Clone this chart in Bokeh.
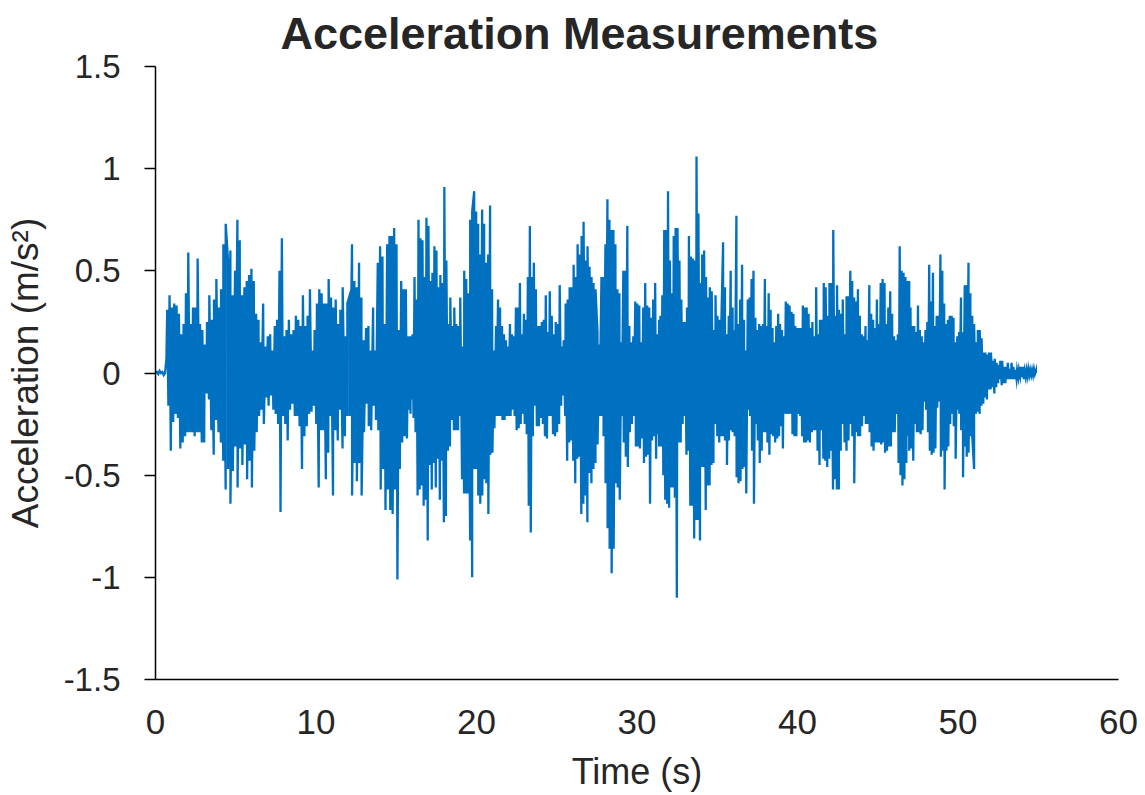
import numpy as np
from bokeh.plotting import figure
from bokeh.models import FixedTicker, Range1d
from bokeh.embed import file_html
from bokeh.resources import INLINE

# ---------------- data ----------------
title_text = "Acceleration Measurements"
x_title = "Time (s)"
y_title = "Acceleration (m/s²)"

x_ticks = [0, 10, 20, 30, 40, 50, 60]
x_tick_labels = ["0", "10", "20", "30", "40", "50", "60"]
y_ticks = [-1.5, -1.0, -0.5, 0.0, 0.5, 1.0, 1.5]
y_tick_labels = ["-1.5", "-1", "-0.5", "0", "0.5", "1", "1.5"]

# quiet lead-in before the shaking starts (0 - 0.7 s)
lead_in = [0.0, 0.005, -0.005, 0.01, 0.0, 0.005, -0.01, 0.0, 0.07]

# segment time spans (s)
seg_spans = [(0.73, 15.89), (15.89, 31.38), (31.46, 46.96), (47.04, 54.85)]

segA_up = [0.31,0.38,0.32,0.34,0.33,0.29,0.19,0.24,0.39,0.59,0.24,0.32,0.32,0.56,0.24,0.21,0.14,0.25,0.38,0.26,
           0.36,0.46,0.32,0.41,0.63,0.73,0.55,0.60,0.38,0.50,0.75,0.65,0.38,0.42,0.45,0.48,0.51,0.45,0.29,0.26,
           0.15,0.34,0.13,0.18,0.19,0.11,0.23,0.26,0.50,0.66,0.18,0.21,0.26,0.19,0.21,0.28,0.26,0.23,0.38,0.23,
           0.28,0.41,0.11,0.21,0.34,0.41,0.39,0.34,0.34,0.46,0.37,0.32,0.36,0.24,0.31,0.42,0.18,0.34,0.38,0.63,
           0.45,0.42,0.54,0.37,0.16,0.22,0.23,0.11,0.32,0.11,0.54,0.62,0.57,0.24,0.63,0.67,0.67,0.71,0.63,0.21,
           0.45,0.41,0.41,0.18,0.18]
segA_dn = [-0.16,-0.38,-0.24,-0.20,-0.22,-0.37,-0.34,-0.31,-0.29,-0.29,-0.29,-0.31,-0.29,-0.29,-0.34,-0.34,-0.10,
           -0.13,-0.28,-0.40,-0.23,-0.29,-0.34,-0.43,-0.57,-0.47,-0.64,-0.48,-0.36,-0.56,-0.37,-0.45,-0.35,-0.52,
           -0.43,-0.56,-0.38,-0.29,-0.21,-0.18,-0.25,-0.12,-0.16,-0.11,-0.18,-0.20,-0.25,-0.68,-0.21,-0.25,-0.33,
           -0.18,-0.15,-0.21,-0.21,-0.26,-0.47,-0.31,-0.26,-0.20,-0.19,-0.16,-0.25,-0.56,-0.28,-0.28,-0.52,-0.39,
           -0.21,-0.60,-0.28,-0.33,-0.18,-0.37,-0.31,-0.21,-0.21,-0.60,-0.44,-0.53,-0.44,-0.60,-0.29,-0.15,-0.26,
           -0.28,-0.16,-0.23,-0.28,-0.57,-0.47,-0.67,-0.57,-0.67,-0.69,-0.57,-1.01,-0.47,-0.34,-0.31,-0.32,-0.18,
           -0.20]

segB_up = [0.18,0.19,0.47,0.36,0.75,0.66,0.65,0.47,0.76,0.72,0.45,0.49,0.62,0.60,0.42,0.48,0.44,0.91,0.55,0.24,
           0.37,0.23,0.32,0.24,0.23,0.37,0.13,0.50,0.46,0.39,0.75,0.79,0.89,0.79,0.73,0.58,0.80,0.73,0.54,0.58,
           0.82,0.41,0.11,0.23,0.36,0.32,0.23,0.19,0.16,0.13,0.24,0.19,0.18,0.32,0.32,0.44,0.19,0.29,0.26,0.47,
           0.72,0.47,0.54,0.41,0.23,0.23,0.25,0.26,0.38,0.20,0.40,0.28,0.19,0.25,0.24,0.43,0.13,0.16,0.34,0.36,
           0.42,0.42,0.53,0.47,0.63,0.58,0.67,0.74,0.55,0.62,0.52,0.47,0.44,0.41,0.20,0.14,0.47,0.47,0.63,0.85,
           0.75,0.70,0.70,0.63,0.41,0.39,0.15,0.50,0.50,0.72,0.23,0.15,0.18,0.35,0.34,0.33,0.15,0.32,0.44,0.33,
           0.32,0.27,0.36,0.44,0.19,0.26]
segB_dn = [-0.13,-0.22,-0.29,-0.60,-0.57,-0.55,-0.65,-0.62,-0.82,-0.45,-0.57,-0.44,-0.56,-0.42,-0.62,-0.43,-0.73,
           -0.70,-0.38,-0.36,-0.23,-0.28,-0.28,-0.28,-0.21,-0.52,-0.59,-0.59,-0.59,-0.82,-1.00,-0.47,-0.47,-0.60,
           -0.64,-0.60,-0.52,-0.54,-0.69,-0.40,-0.39,-0.27,-0.21,-0.21,-0.21,-0.23,-0.23,-0.21,-0.21,-0.21,-0.18,
           -0.21,-0.28,-0.27,-0.25,-0.20,-0.25,-0.30,-0.65,-0.78,-0.31,-0.16,-0.26,-0.26,-0.22,-0.25,-0.31,-0.32,
           -0.21,-0.21,-0.30,-0.31,-0.29,-0.25,-0.16,-0.11,-0.21,-0.43,-0.34,-0.33,-0.43,-0.54,-0.42,-0.41,-0.69,
           -0.64,-0.60,-0.73,-0.49,-0.54,-0.47,-0.44,-0.35,-0.21,-0.21,-0.31,-0.54,-0.76,-0.86,-0.98,-0.86,-0.54,
           -0.56,-0.62,-0.21,-0.34,-0.41,-0.46,-0.29,-0.25,-0.21,-0.36,-0.36,-0.37,-0.32,-0.44,-0.41,-0.40,-0.64,
           -0.33,-0.31,-0.42,-0.30,-0.36]

segC_up = [0.28,0.38,0.70,0.70,0.89,0.55,0.39,0.67,0.71,0.71,0.55,0.36,0.25,0.25,0.32,0.67,0.57,0.56,0.55,1.06,
           0.78,0.44,0.58,0.60,0.47,0.37,0.42,0.40,0.21,0.38,0.28,0.26,0.21,0.64,0.42,0.19,0.28,0.50,0.32,0.21,
           0.77,0.24,0.36,0.53,0.26,0.11,0.36,0.37,0.46,0.50,0.27,0.21,0.24,0.23,0.24,0.46,0.23,0.39,0.31,0.22,
           0.15,0.23,0.29,0.24,0.21,0.18,0.35,0.34,0.33,0.30,0.29,0.23,0.22,0.22,0.22,0.33,0.32,0.32,0.29,0.22,
           0.25,0.18,0.42,0.19,0.26,0.26,0.44,0.42,0.28,0.44,0.44,0.70,0.28,0.43,0.31,0.29,0.36,0.19,0.37,0.37,
           0.50,0.45,0.37,0.35,0.41,0.28,0.19,0.18,0.23,0.16,0.43,0.29,0.26,0.22,0.36,0.24,0.44,0.46,0.44,0.24,
           0.32,0.40,0.29,0.18,0.16,0.19,0.62,0.50,0.49,0.47,0.45,0.45]
segC_dn = [-0.36,-0.50,-0.62,-0.64,-0.66,-0.56,-0.56,-0.61,-1.10,-0.34,-0.34,-0.25,-0.21,-0.40,-0.38,-0.65,-0.65,
           -0.81,-0.72,-0.72,-0.82,-0.46,-0.46,-0.67,-0.55,-0.55,-0.45,-0.44,-0.25,-0.31,-0.34,-0.31,-0.31,-0.33,
           -0.45,-0.33,-0.28,-0.29,-0.31,-0.51,-0.54,-0.53,-0.47,-0.46,-0.59,-0.18,-0.21,-0.38,-0.64,-0.25,-0.33,
           -0.44,-0.38,-0.29,-0.29,-0.34,-0.40,-0.30,-0.31,-0.34,-0.32,-0.31,-0.26,-0.37,-0.20,-0.20,-0.20,-0.20,
           -0.30,-0.31,-0.31,-0.20,-0.21,-0.31,-0.34,-0.34,-0.33,-0.34,-0.29,-0.28,-0.28,-0.38,-0.45,-0.28,-0.42,
           -0.43,-0.46,-0.42,-0.38,-0.57,-0.52,-0.57,-0.57,-0.38,-0.25,-0.34,-0.38,-0.33,-0.25,-0.31,-0.54,-0.29,
           -0.31,-0.31,-0.26,-0.21,-0.25,-0.25,-0.29,-0.36,-0.38,-0.34,-0.34,-0.34,-0.35,-0.34,-0.39,-0.38,-0.36,
           -0.36,-0.29,-0.29,-0.20,-0.44,-0.50,-0.55,-0.52,-0.44,-0.31,-0.38]

segD_up = [0.32,0.23,0.23,0.20,0.33,0.21,0.18,0.15,0.21,0.25,0.53,0.35,0.49,0.23,0.28,0.28,0.58,0.50,0.34,0.24,
           0.26,0.28,0.28,0.27,0.15,0.18,0.20,0.37,0.20,0.43,0.43,0.54,0.39,0.28,0.24,0.15,0.21,0.21,0.17,0.10,
           0.10,0.09,0.10,0.10,0.06,0.07,0.05,0.04,0.06,0.06,0.03,0.03,0.05,0.02,0.05,0.03,0.015,0.015,0.015,0.03,
           0.03,0.01,0.015,0.02,0.015,0.015,0.02,0.01]
segD_dn = [-0.37,-0.43,-0.25,-0.29,-0.29,-0.30,-0.28,-0.14,-0.18,-0.29,-0.38,-0.40,-0.39,-0.37,-0.17,-0.14,-0.41,
           -0.38,-0.57,-0.38,-0.36,-0.25,-0.20,-0.26,-0.42,-0.18,-0.20,-0.28,-0.51,-0.36,-0.41,-0.39,-0.31,-0.31,
           -0.47,-0.20,-0.19,-0.20,-0.16,-0.15,-0.12,-0.13,-0.08,-0.08,-0.07,-0.10,-0.07,-0.05,-0.03,-0.06,-0.05,
           -0.05,-0.03,-0.03,-0.03,-0.03,-0.03,-0.03,-0.02,-0.015,-0.02,-0.03,-0.02,-0.015,-0.01,-0.01,-0.01,
           -0.005,0.0]

# ---------------- assemble the time series ----------------
seg_ups = [segA_up, segB_up, segC_up, segD_up]
seg_dns = [segA_dn, segB_dn, segC_dn, segD_dn]

t_parts = [np.linspace(0.0, 0.68, len(lead_in))]
a_parts = [np.array(lead_in)]
for (t0, t1), up, dn in zip(seg_spans, seg_ups, seg_dns):
    tu = np.linspace(t0, t1, len(up))
    half = 0.5 * (t1 - t0) / max(len(dn) - 1, 1)
    td = np.linspace(t0, t1, len(dn)) + half
    td[-1] = min(td[-1], t1)
    t_parts += [tu, td]
    a_parts += [np.array(up), np.array(dn)]

t = np.concatenate(t_parts)
a = np.concatenate(a_parts)
order = np.argsort(t, kind="stable")
t = t[order]
a = a[order]

# ---------------- figure ----------------
FONT = "Liberation Sans"
TXT = "#262626"

p = figure(width=1144, height=794,
           x_range=Range1d(x_ticks[0], x_ticks[-1]), y_range=Range1d(y_ticks[0], y_ticks[-1]),
           output_backend="svg", toolbar_location=None,
           min_border_left=155, min_border_right=26,
           min_border_top=66, min_border_bottom=115)

p.line(t, a, line_width=2.3, line_color="#0070C0", line_join="miter")

p.title.text = title_text
p.title.text_font = FONT
p.title.text_font_size = "45px"
p.title.text_font_style = "bold"
p.title.text_color = TXT
p.title.align = "left"
p.title.vertical_align = "top"
p.title.offset = 125
p.title.standoff = 12

p.outline_line_color = None
p.xgrid.visible = False
p.ygrid.visible = False
p.background_fill_color = "white"
p.border_fill_color = "white"

xa = p.xaxis[0]
xa.ticker = FixedTicker(ticks=x_ticks)
xa.major_label_overrides = {v: s for v, s in zip(x_ticks, x_tick_labels)}
xa.major_tick_out = 0
xa.major_tick_in = 0
xa.minor_tick_out = 0
xa.minor_tick_in = 0
xa.axis_line_color = "black"
xa.axis_line_width = 1.5
xa.major_label_text_font = FONT
xa.major_label_text_font_size = "35px"
xa.major_label_text_color = TXT
xa.major_label_standoff = 30
xa.axis_label = x_title
xa.axis_label_text_font = FONT
xa.axis_label_text_font_size = "36px"
xa.axis_label_text_font_style = "normal"
xa.axis_label_text_color = TXT
xa.axis_label_standoff = 14

ya = p.yaxis[0]
ya.ticker = FixedTicker(ticks=y_ticks)
ya.major_label_overrides = {v: s for v, s in zip(y_ticks, y_tick_labels)}
ya.major_tick_out = 11
ya.major_tick_in = 0
ya.minor_tick_out = 0
ya.minor_tick_in = 0
ya.major_tick_line_color = "black"
ya.major_tick_line_width = 1.5
ya.axis_line_color = "black"
ya.axis_line_width = 1.5
ya.major_label_text_font = FONT
ya.major_label_text_font_size = "33px"
ya.major_label_text_color = TXT
ya.major_label_standoff = 24
ya.axis_label = y_title
ya.axis_label_text_font = FONT
ya.axis_label_text_font_size = "37px"
ya.axis_label_text_font_style = "normal"
ya.axis_label_text_color = TXT
ya.axis_label_standoff = 15

open("out.html", "w").write(file_html(p, INLINE))
